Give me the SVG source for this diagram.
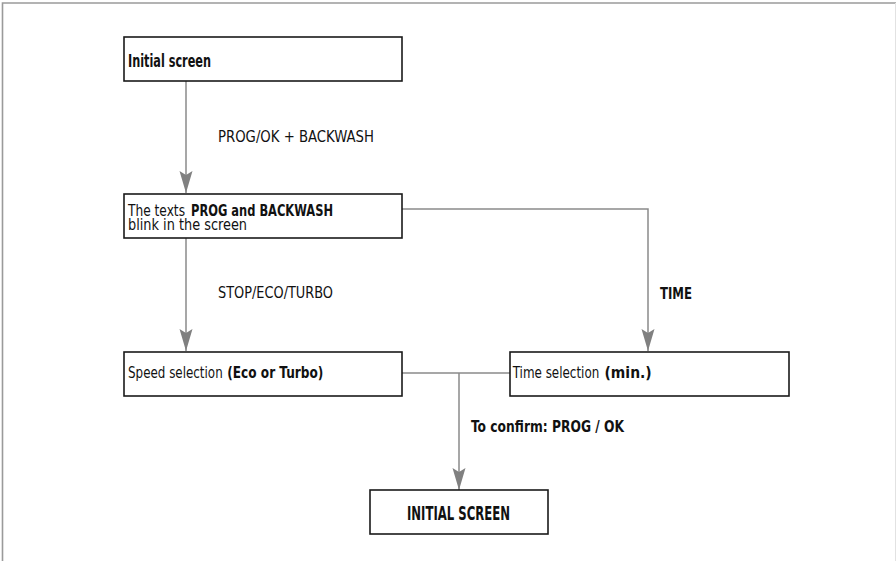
<svg xmlns="http://www.w3.org/2000/svg" width="896" height="561" viewBox="0 0 896 561">
<defs>
<style>
.box{fill:#fff;stroke:#1a1a1a;stroke-width:1.6}
.con{fill:none;stroke:#8a8a8a;stroke-width:1.5}
text{font-family:"DejaVu Sans Condensed","Liberation Sans Narrow","Liberation Sans",sans-serif;font-size:16.5px;fill:#111}
.b{font-weight:bold}
.big{font-size:18px}
.huge{font-size:19.5px}
.small{font-size:15px}
</style>
<marker id="arr" markerUnits="userSpaceOnUse" markerWidth="24" markerHeight="16" viewBox="0 -8 24 16" refX="22" refY="0" orient="auto">
<path d="M0,-6.5 L22,0 L0,6.5 L4,0 Z" fill="#808080"/>
</marker>
</defs>
<rect width="896" height="561" fill="#fff"/>
<g id="frame">
<path d="M2.5,561 V3 H896" fill="none" stroke="#9a9a9a" stroke-width="1.6"/>
<line x1="895.5" y1="3" x2="895.5" y2="561" stroke="#e2e2e2" stroke-width="1"/>
</g>
<g id="connectors">
<line class="con" x1="186" y1="81" x2="186" y2="193" marker-end="url(#arr)"/>
<line class="con" x1="186" y1="238" x2="186" y2="351" marker-end="url(#arr)"/>
<path class="con" d="M402,209 H648 V351" marker-end="url(#arr)"/>
<line class="con" x1="402" y1="373" x2="510" y2="373"/>
<line class="con" x1="459" y1="373" x2="459" y2="490" marker-end="url(#arr)"/>
<text x="218" y="141.7" textLength="156" lengthAdjust="spacingAndGlyphs">PROG/OK + BACKWASH</text>
<text x="218" y="298.3" textLength="115" lengthAdjust="spacingAndGlyphs">STOP/ECO/TURBO</text>
<text class="b" x="660" y="299" textLength="32" lengthAdjust="spacingAndGlyphs">TIME</text>
<text class="b" x="471" y="431.7" textLength="153" lengthAdjust="spacingAndGlyphs">To confirm: PROG / OK</text>
</g>
<g id="initial">
<rect class="box" x="124" y="37" width="278" height="44"/>
<text class="b big" x="128" y="66.7" textLength="83" lengthAdjust="spacingAndGlyphs">Initial screen</text>
</g>
<g id="blink">
<rect class="box" x="124" y="194" width="278" height="44"/>
<text y="216"><tspan x="128" textLength="57" lengthAdjust="spacingAndGlyphs">The texts</tspan><tspan class="b" x="191" textLength="142" lengthAdjust="spacingAndGlyphs">PROG and BACKWASH</tspan></text>
<text class="small" x="128" y="229.5" textLength="119" lengthAdjust="spacingAndGlyphs">blink in the screen</text>
</g>
<g id="speed">
<rect class="box" x="124" y="352" width="278" height="44"/>
<text y="377.7"><tspan x="128" textLength="94.7" lengthAdjust="spacingAndGlyphs">Speed selection</tspan><tspan class="b" x="227.3" textLength="96" lengthAdjust="spacingAndGlyphs">(Eco or Turbo)</tspan></text>
</g>
<g id="time">
<rect class="box" x="510" y="352" width="279" height="44"/>
<text y="377.7"><tspan x="512.7" textLength="86.6" lengthAdjust="spacingAndGlyphs">Time selection</tspan><tspan class="b" x="604.5" textLength="47.2" lengthAdjust="spacingAndGlyphs">(min.)</tspan></text>
</g>
<g id="final">
<rect class="box" x="370" y="490" width="178" height="44"/>
<text class="b huge" x="407" y="520" textLength="103" lengthAdjust="spacingAndGlyphs">INITIAL SCREEN</text>
</g>
</svg>
